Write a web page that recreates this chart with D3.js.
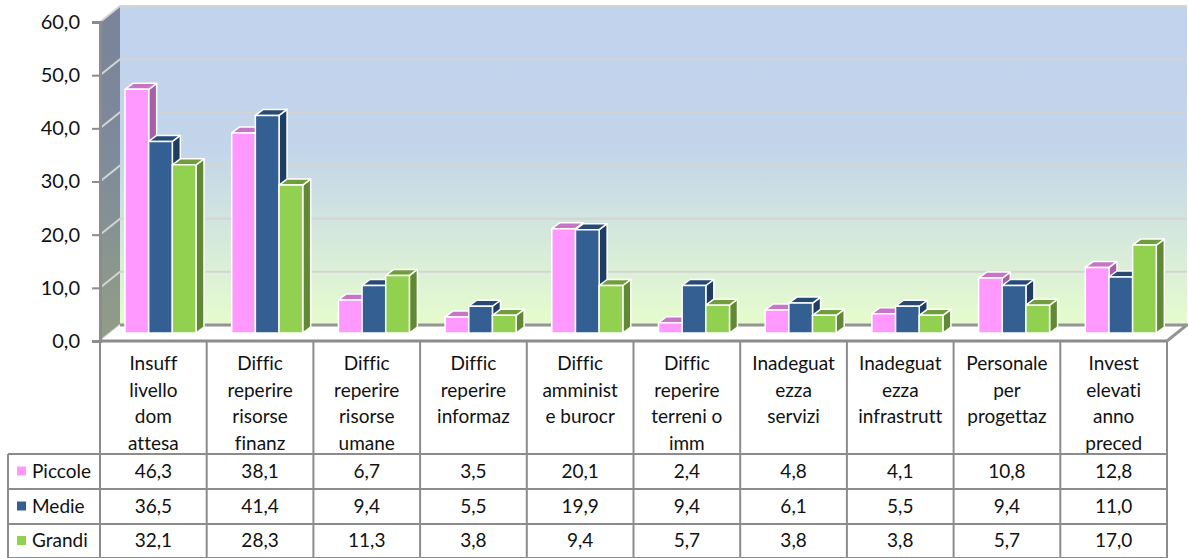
<!DOCTYPE html>
<html>
<head>
<meta charset="utf-8">
<script src="https://cdn.jsdelivr.net/npm/d3@7"></script>
<style>
  html, body { margin: 0; padding: 0; background: #fff; }
  svg { display: block; }
  text { font-family: Lato, sans-serif; font-size: 19px; fill: #111; font-variant-ligatures: none; }
</style>
</head>
<body>
<svg id="chart" width="1188" height="558"></svg>
<script>
const categories = [
  ['Insuff', 'livello', 'dom', 'attesa'],
  ['Diffic', 'reperire', 'risorse', 'finanz'],
  ['Diffic', 'reperire', 'risorse', 'umane'],
  ['Diffic', 'reperire', 'informaz'],
  ['Diffic', 'amminist', 'e burocr'],
  ['Diffic', 'reperire', 'terreni o', 'imm'],
  ['Inadeguat', 'ezza', 'servizi'],
  ['Inadeguat', 'ezza', 'infrastrutt'],
  ['Personale', 'per', 'progettaz'],
  ['Invest', 'elevati', 'anno', 'preced']
];
const seriesNames = ['Piccole', 'Medie', 'Grandi'];
const piccole = [46.3, 38.1, 6.7, 3.5, 20.1, 2.4, 4.8, 4.1, 10.8, 12.8];
const medie = [36.5, 41.4, 9.4, 5.5, 19.9, 9.4, 6.1, 5.5, 9.4, 11.0];
const grandi = [32.1, 28.3, 11.3, 3.8, 9.4, 5.7, 3.8, 3.8, 5.7, 17.0];
const yTicks = [0, 10, 20, 30, 40, 50, 60];

const seriesValues = [piccole, medie, grandi];
const front = ['#ff99ff', '#335f92', '#92d050'];
const topFace = ['#c775c7', '#264a73', '#6f9e3a'];
const sideFace = ['#a85fa8', '#1f3d60', '#5f8a32'];

const fmt = v => v.toFixed(1).replace('.', ',');

const svg = d3.select('#chart');
const left = 100, right = 1167, axisY = 341, topY = 22;
const depthX = 20, depthY = 16;     // shift from front plane to back wall
const barDX = 8, barDY = 6;         // depth of a bar
const zeroLift = 5.5;               // value zero sits this far above the axis line
const barBase = 333;                // visible foot of the bars

const x = d3.scaleBand().domain(d3.range(categories.length)).range([left, right]);
const xInner = d3.scaleBand().domain(d3.range(3)).range([25, 96]);
const y = d3.scaleLinear().domain([0, 60]).range([axisY, topY]);

const defs = svg.append('defs');
const wall = defs.append('linearGradient').attr('id', 'wall').attr('x1', 0).attr('x2', 0).attr('y1', 0).attr('y2', 1);
wall.append('stop').attr('offset', '0').attr('stop-color', '#c1d2ee');
wall.append('stop').attr('offset', '0.45').attr('stop-color', '#c3d5ea');
wall.append('stop').attr('offset', '1').attr('stop-color', '#e6fccd');
const sideWall = defs.append('linearGradient').attr('id', 'sideWall').attr('x1', 0).attr('x2', 0).attr('y1', 0).attr('y2', 1);
sideWall.append('stop').attr('offset', '0').attr('stop-color', '#7a8399');
sideWall.append('stop').attr('offset', '0.45').attr('stop-color', '#7e8b9b');
sideWall.append('stop').attr('offset', '1').attr('stop-color', '#929e86');

// back wall, side wall, floor
svg.append('rect')
  .attr('x', left + depthX).attr('y', y(60) - depthY)
  .attr('width', right - left).attr('height', y(0) - y(60))
  .attr('fill', 'url(#wall)');
svg.append('path')
  .attr('d', `M${left},${y(60)}L${left + depthX},${y(60) - depthY}V${y(0) - depthY}L${left},${y(0)}Z`)
  .attr('fill', 'url(#sideWall)');

// gridlines on wall and side
const grid = svg.append('g').attr('fill', 'none').attr('stroke', '#d4d4d4').attr('stroke-width', 2);
yTicks.forEach(t => {
  grid.append('path').attr('d', `M${left},${y(t)}L${left + depthX},${y(t) - depthY}H${right + depthX}`);
});

svg.append('path')
  .attr('d', `M${left},${y(0)}L${left + depthX},${y(0) - depthY}H${right + depthX}L${right},${y(0)}Z`)
  .attr('fill', '#fff');
svg.append('path')
  .attr('d', `M${left + depthX},${y(0) - depthY}H${right + depthX}L${right},${y(0)}`)
  .attr('fill', 'none').attr('stroke', '#949494').attr('stroke-width', 3);

// axis
svg.append('g')
  .attr('transform', `translate(${left},0)`)
  .call(d3.axisLeft(y).tickValues(yTicks).tickSize(8).tickPadding(12).tickFormat(fmt))
  .call(g => g.selectAll('line').attr('stroke', '#8c8c8c').attr('stroke-width', 2))
  .call(g => g.select('.domain').attr('stroke', '#8c8c8c').attr('stroke-width', 3))
  .call(g => g.selectAll('text').attr('fill', '#111').style('font-size', '20px').style('font-family', 'Lato, sans-serif'));

// bars, back to front so later ones cover earlier sides
const groups = svg.append('g').selectAll('g')
  .data(categories.flatMap((c, i) => seriesNames.map((s, j) => ({ i, j, v: seriesValues[j][i] }))))
  .join('g')
  .attr('stroke', '#fff').attr('stroke-width', 1.5).attr('stroke-linejoin', 'round');

const bx = d => x(d.i) + xInner(d.j);
const bw = xInner.bandwidth();
const by = d => y(d.v) - zeroLift;

groups.append('path').attr('fill', d => sideFace[d.j])
  .attr('d', d => `M${bx(d) + bw},${by(d)}l${barDX},${-barDY}V${barBase - barDY}l${-barDX},${barDY}Z`);
groups.append('path').attr('fill', d => topFace[d.j])
  .attr('d', d => `M${bx(d)},${by(d)}l${barDX},${-barDY}h${bw}l${-barDX},${barDY}Z`);
groups.append('rect').attr('fill', d => front[d.j])
  .attr('x', bx).attr('y', by).attr('width', bw).attr('height', d => barBase - by(d));

// data table
const tableLeft = 8;
const rowLines = [454, 489, 524, 558];
const tableColor = '#8c8c8c';
const table = svg.append('g').attr('stroke', tableColor).attr('stroke-width', 2);
x.domain().forEach(i => {
  table.append('line').attr('x1', x(i)).attr('x2', x(i)).attr('y1', axisY).attr('y2', 558);
});
table.append('line').attr('x1', right).attr('x2', right).attr('y1', axisY).attr('y2', 558);
table.append('line').attr('x1', tableLeft).attr('x2', tableLeft).attr('y1', rowLines[0]).attr('y2', 558);
rowLines.forEach(r => {
  table.append('line').attr('x1', tableLeft).attr('x2', right).attr('y1', r).attr('y2', r);
});
table.append('line').attr('x1', left).attr('x2', right).attr('y1', axisY).attr('y2', axisY).attr('stroke-width', 3);

// category labels
categories.forEach((lines, i) => {
  lines.forEach((line, k) => {
    svg.append('text')
      .attr('x', x(i) + x.bandwidth() / 2).attr('y', 370 + k * 26.5)
      .attr('text-anchor', 'middle').text(line);
  });
});

// table rows
seriesNames.forEach((name, j) => {
  const cy = (rowLines[j] + rowLines[j + 1]) / 2 + 6;
  svg.append('rect').attr('x', 17).attr('y', cy - 11).attr('width', 9).attr('height', 9).attr('fill', front[j]);
  svg.append('text').attr('x', 32).attr('y', cy).text(name);
  seriesValues[j].forEach((v, i) => {
    svg.append('text')
      .attr('x', x(i) + x.bandwidth() / 2).attr('y', cy)
      .attr('text-anchor', 'middle').text(fmt(v));
  });
});
</script>
</body>
</html>
